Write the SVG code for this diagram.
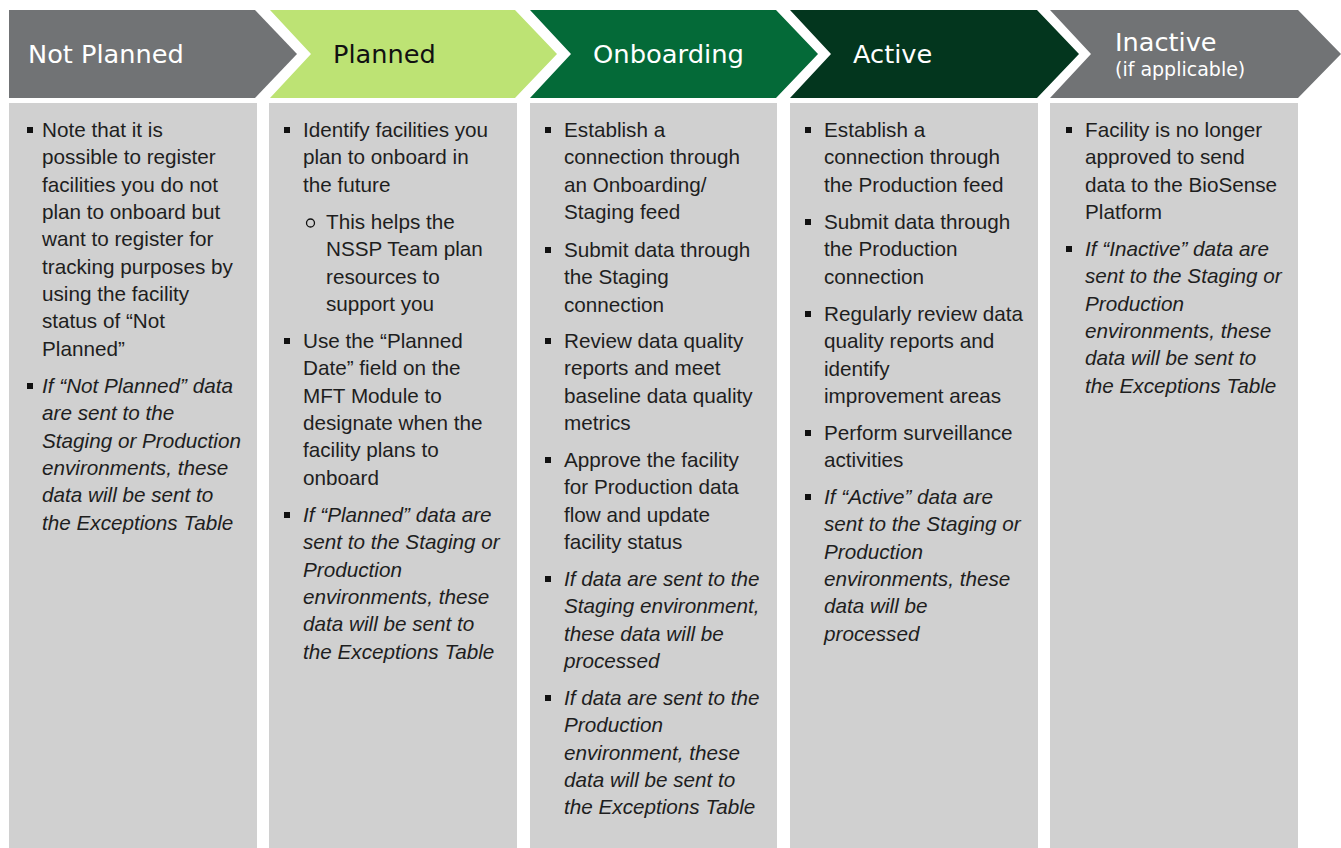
<svg xmlns="http://www.w3.org/2000/svg" width="1341" height="848" viewBox="0 0 1341 848">
<style>
.panel{fill:#d0d0d0}
.hd{font-family:"DejaVu Sans",Verdana,sans-serif;font-size:25.6px}
.sub{font-family:"DejaVu Sans",Verdana,sans-serif;font-size:19px}
.w{fill:#ffffff}
.k{fill:#111111}
.body{font-family:"Liberation Sans",Arial,sans-serif;font-size:20.7px;fill:#1e1e1e}
.it{font-style:italic}
.bul{fill:#111111}
.cir{fill:none;stroke:#111111;stroke-width:1.3}
</style>
<rect width="1341" height="848" fill="#ffffff"/>
<g id="connectors"/>

<g id="not-planned">
<polygon points="9,10 255,10 297,54 255,98 9,98" fill="#717375"/>
<rect class="panel" x="9" y="103" width="248" height="745"/>
<text class="hd w" x="28" y="63">Not Planned</text>
<rect class="bul" x="27" y="127" width="6" height="6"/>
<text class="body" x="42" y="137"><tspan x="42">Note that it is</tspan><tspan x="42" dy="27.33">possible to register</tspan><tspan x="42" dy="27.33">facilities you do not</tspan><tspan x="42" dy="27.33">plan to onboard but</tspan><tspan x="42" dy="27.33">want to register for</tspan><tspan x="42" dy="27.33">tracking purposes by</tspan><tspan x="42" dy="27.33">using the facility</tspan><tspan x="42" dy="27.33">status of “Not</tspan><tspan x="42" dy="27.33">Planned”</tspan></text>
<rect class="bul" x="27" y="383" width="6" height="6"/>
<text class="body it" x="42" y="393"><tspan x="42">If “Not Planned” data</tspan><tspan x="42" dy="27.33">are sent to the</tspan><tspan x="42" dy="27.33">Staging or Production</tspan><tspan x="42" dy="27.33">environments, these</tspan><tspan x="42" dy="27.33">data will be sent to</tspan><tspan x="42" dy="27.33">the Exceptions Table</tspan></text>
</g>

<g id="planned">
<polygon points="270,10 515,10 557,54 515,98 270,98 311,54" fill="#bde374"/>
<rect class="panel" x="269" y="103" width="248" height="745"/>
<text class="hd k" x="333" y="63">Planned</text>
<rect class="bul" x="284" y="127" width="6" height="6"/>
<text class="body" x="303" y="137"><tspan x="303">Identify facilities you</tspan><tspan x="303" dy="27.33">plan to onboard in</tspan><tspan x="303" dy="27.33">the future</tspan></text>
<circle class="cir" cx="310.5" cy="223" r="4"/>
<text class="body" x="326" y="229"><tspan x="326">This helps the</tspan><tspan x="326" dy="27.33">NSSP Team plan</tspan><tspan x="326" dy="27.33">resources to</tspan><tspan x="326" dy="27.33">support you</tspan></text>
<rect class="bul" x="284" y="338" width="6" height="6"/>
<text class="body" x="303" y="348"><tspan x="303">Use the “Planned</tspan><tspan x="303" dy="27.33">Date” field on the</tspan><tspan x="303" dy="27.33">MFT Module to</tspan><tspan x="303" dy="27.33">designate when the</tspan><tspan x="303" dy="27.33">facility plans to</tspan><tspan x="303" dy="27.33">onboard</tspan></text>
<rect class="bul" x="284" y="512" width="6" height="6"/>
<text class="body it" x="303" y="522"><tspan x="303">If “Planned” data are</tspan><tspan x="303" dy="27.33">sent to the Staging or</tspan><tspan x="303" dy="27.33">Production</tspan><tspan x="303" dy="27.33">environments, these</tspan><tspan x="303" dy="27.33">data will be sent to</tspan><tspan x="303" dy="27.33">the Exceptions Table</tspan></text>
</g>

<g id="onboarding">
<polygon points="530,10 776,10 818,54 776,98 530,98 571,54" fill="#046a38"/>
<rect class="panel" x="530" y="103" width="247" height="745"/>
<text class="hd w" x="593" y="63" textLength="151" lengthAdjust="spacingAndGlyphs">Onboarding</text>
<rect class="bul" x="545" y="127" width="6" height="6"/>
<text class="body" x="564" y="137"><tspan x="564">Establish a</tspan><tspan x="564" dy="27.33">connection through</tspan><tspan x="564" dy="27.33">an Onboarding/</tspan><tspan x="564" dy="27.33">Staging feed</tspan></text>
<rect class="bul" x="545" y="247" width="6" height="6"/>
<text class="body" x="564" y="257"><tspan x="564">Submit data through</tspan><tspan x="564" dy="27.33">the Staging</tspan><tspan x="564" dy="27.33">connection</tspan></text>
<rect class="bul" x="545" y="338" width="6" height="6"/>
<text class="body" x="564" y="348"><tspan x="564">Review data quality</tspan><tspan x="564" dy="27.33">reports and meet</tspan><tspan x="564" dy="27.33">baseline data quality</tspan><tspan x="564" dy="27.33">metrics</tspan></text>
<rect class="bul" x="545" y="457" width="6" height="6"/>
<text class="body" x="564" y="467"><tspan x="564">Approve the facility</tspan><tspan x="564" dy="27.33">for Production data</tspan><tspan x="564" dy="27.33">flow and update</tspan><tspan x="564" dy="27.33">facility status</tspan></text>
<rect class="bul" x="545" y="576" width="6" height="6"/>
<text class="body it" x="564" y="586"><tspan x="564">If data are sent to the</tspan><tspan x="564" dy="27.33">Staging environment,</tspan><tspan x="564" dy="27.33">these data will be</tspan><tspan x="564" dy="27.33">processed</tspan></text>
<rect class="bul" x="545" y="695" width="6" height="6"/>
<text class="body it" x="564" y="705"><tspan x="564">If data are sent to the</tspan><tspan x="564" dy="27.33">Production</tspan><tspan x="564" dy="27.33">environment, these</tspan><tspan x="564" dy="27.33">data will be sent to</tspan><tspan x="564" dy="27.33">the Exceptions Table</tspan></text>
</g>

<g id="active">
<polygon points="790,10 1037,10 1079,54 1037,98 790,98 831,54" fill="#03361e"/>
<rect class="panel" x="790" y="103" width="248" height="745"/>
<text class="hd w" x="853" y="63">Active</text>
<rect class="bul" x="805" y="127" width="6" height="6"/>
<text class="body" x="824" y="137"><tspan x="824">Establish a</tspan><tspan x="824" dy="27.33">connection through</tspan><tspan x="824" dy="27.33">the Production feed</tspan></text>
<rect class="bul" x="805" y="219" width="6" height="6"/>
<text class="body" x="824" y="229"><tspan x="824">Submit data through</tspan><tspan x="824" dy="27.33">the Production</tspan><tspan x="824" dy="27.33">connection</tspan></text>
<rect class="bul" x="805" y="311" width="6" height="6"/>
<text class="body" x="824" y="321"><tspan x="824">Regularly review data</tspan><tspan x="824" dy="27.33">quality reports and</tspan><tspan x="824" dy="27.33">identify</tspan><tspan x="824" dy="27.33">improvement areas</tspan></text>
<rect class="bul" x="805" y="430" width="6" height="6"/>
<text class="body" x="824" y="440"><tspan x="824">Perform surveillance</tspan><tspan x="824" dy="27.33">activities</tspan></text>
<rect class="bul" x="805" y="494" width="6" height="6"/>
<text class="body it" x="824" y="504"><tspan x="824">If “Active” data are</tspan><tspan x="824" dy="27.33">sent to the Staging or</tspan><tspan x="824" dy="27.33">Production</tspan><tspan x="824" dy="27.33">environments, these</tspan><tspan x="824" dy="27.33">data will be</tspan><tspan x="824" dy="27.33">processed</tspan></text>
</g>

<g id="inactive">
<polygon points="1050,10 1298,10 1341,54 1298,98 1050,98 1091,54" fill="#717375"/>
<rect class="panel" x="1050" y="103" width="248" height="745"/>
<text class="hd w" x="1115" y="51">Inactive</text>
<text class="sub w" x="1115" y="76">(if applicable)</text>
<rect class="bul" x="1066" y="127" width="6" height="6"/>
<text class="body" x="1085" y="137"><tspan x="1085">Facility is no longer</tspan><tspan x="1085" dy="27.33">approved to send</tspan><tspan x="1085" dy="27.33">data to the BioSense</tspan><tspan x="1085" dy="27.33">Platform</tspan></text>
<rect class="bul" x="1066" y="246" width="6" height="6"/>
<text class="body it" x="1085" y="256"><tspan x="1085">If “Inactive” data are</tspan><tspan x="1085" dy="27.33">sent to the Staging or</tspan><tspan x="1085" dy="27.33">Production</tspan><tspan x="1085" dy="27.33">environments, these</tspan><tspan x="1085" dy="27.33">data will be sent to</tspan><tspan x="1085" dy="27.33">the Exceptions Table</tspan></text>
</g>
</svg>
